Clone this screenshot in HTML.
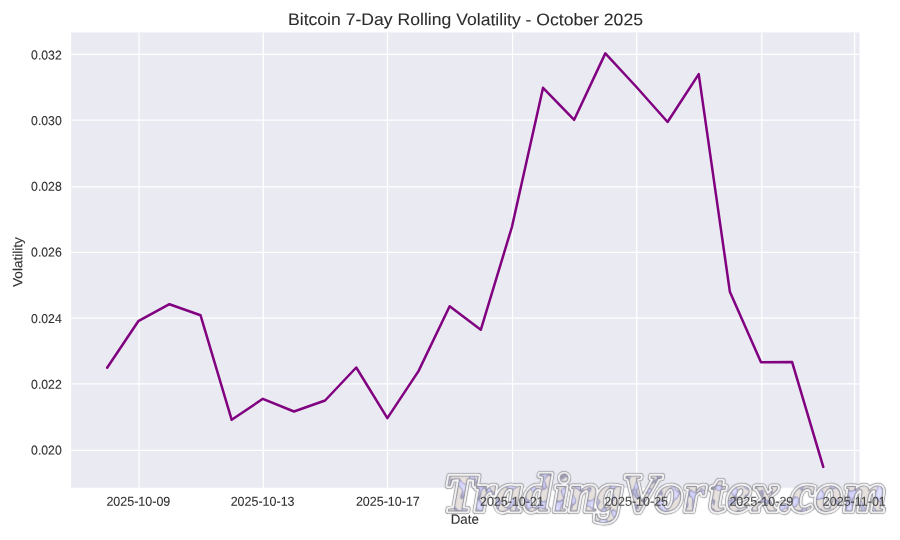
<!DOCTYPE html>
<html lang="en">
<head>
<meta charset="utf-8">
<title>Bitcoin 7-Day Rolling Volatility - October 2025</title>
<style>
html,body{margin:0;padding:0;background:#fff;}
body{width:900px;height:540px;overflow:hidden;}
svg{display:block;}
text{font-family:"Liberation Sans",sans-serif;text-rendering:geometricPrecision;}
.tick{font-size:12.5px;fill:#2e2e2e;stroke:#2e2e2e;stroke-width:0.09px;}
.ytick{font-size:12.25px;fill:#323232;stroke:#323232;stroke-width:0.12px;}
.lab{fill:#303030;stroke:#303030;stroke-width:0.13px;}
.title{font-size:17.6px;fill:#2b2b2b;stroke:#2b2b2b;stroke-width:0.07px;}
.wm{font-family:"Liberation Serif",serif;font-weight:bold;font-style:italic;}
</style>
</head>
<body>
<svg width="900" height="540" viewBox="0 0 900 540">
<rect width="900" height="540" fill="#ffffff"/>

<rect x="71.1" y="32.4" width="788.40" height="455.40" fill="#eaeaf2"/>
<g stroke="#ffffff" stroke-width="1.25" fill="none">
<line x1="139.05" y1="32.4" x2="139.05" y2="487.8"/>
<line x1="263.25" y1="32.4" x2="263.25" y2="487.8"/>
<line x1="387.45" y1="32.4" x2="387.45" y2="487.8"/>
<line x1="512.55" y1="32.4" x2="512.55" y2="487.8"/>
<line x1="636.75" y1="32.4" x2="636.75" y2="487.8"/>
<line x1="761.85" y1="32.4" x2="761.85" y2="487.8"/>
<line x1="854.55" y1="32.4" x2="854.55" y2="487.8"/>
<line x1="71.1" y1="54.45" x2="859.5" y2="54.45"/>
<line x1="71.1" y1="120.15" x2="859.5" y2="120.15"/>
<line x1="71.1" y1="186.75" x2="859.5" y2="186.75"/>
<line x1="71.1" y1="252.45" x2="859.5" y2="252.45"/>
<line x1="71.1" y1="318.15" x2="859.5" y2="318.15"/>
<line x1="71.1" y1="383.85" x2="859.5" y2="383.85"/>
<line x1="71.1" y1="450.45" x2="859.5" y2="450.45"/>
</g>
<polyline points="107.16,367.70 138.29,321.20 169.43,304.20 200.56,315.30 231.70,419.80 262.83,398.80 293.97,411.50 325.10,400.50 356.24,367.50 387.37,418.10 418.51,371.10 449.64,306.20 480.78,329.80 511.91,227.00 543.05,87.80 574.18,119.80 605.32,53.37 636.45,87.00 667.59,122.00 698.72,74.10 729.86,291.70 760.99,362.20 792.13,362.10 823.26,466.87" fill="none" stroke="#800080" stroke-width="2.5" stroke-linecap="round" stroke-linejoin="round"/>
<defs>
<filter id="marble" x="0" y="0" width="100%" height="100%" color-interpolation-filters="sRGB">
<feTurbulence type="fractalNoise" baseFrequency="0.13 0.1" numOctaves="1" seed="7" result="n"/>
<feColorMatrix in="n" type="matrix" values="0 0 0 0 0.776  0 0 0 0 0.776  0 0 0 0 0.980  1 0 0 0 0"/>
<feComponentTransfer result="blobs"><feFuncA type="table" tableValues="0.00 0.00 0.00 0.00 0.00 0.00 0.00 0.00 0.00 0.00 0.00 0.00 0.00 0.00 0.00 0.00 0.00 0.00 0.00 0.00 0.05 0.30 0.55 0.80 1.00 1.00 1.00 1.00 1.00 1.00 1.00 1.00 1.00 1.00 1.00 1.00 1.00 1.00 1.00 1.00 1.00"/></feComponentTransfer>
<feColorMatrix in="n" type="matrix" values="0 0 0 0 0.886  0 0 0 0 0.886  0 0 0 0 0.992  1 0 0 0 0"/>
<feComponentTransfer result="blobs2"><feFuncA type="table" tableValues="0.00 0.00 0.00 0.00 0.00 0.00 0.00 0.00 0.00 0.00 0.00 0.00 0.00 0.00 0.00 0.00 0.00 0.00 0.00 0.00 0.00 0.00 0.00 0.08 0.23 0.38 0.53 0.68 0.83 0.98 1.00 1.00 1.00 1.00 1.00 1.00 1.00 1.00 1.00 1.00 1.00"/></feComponentTransfer>
<feColorMatrix in="n" type="matrix" values="0 0 0 0 0.549  0 0 0 0 0.541  0 0 0 0 0.651  1 0 0 0 0"/>
<feComponentTransfer result="veins"><feFuncA type="table" tableValues="0.00 0.00 0.00 0.00 0.00 0.00 0.00 0.00 0.00 0.00 0.00 0.00 0.00 0.00 0.00 0.00 0.00 0.00 0.00 0.00 0.00 0.50 0.87 0.25 0.00 0.00 0.00 0.00 0.00 0.00 0.00 0.00 0.00 0.00 0.00 0.00 0.00 0.00 0.00 0.00 0.00"/></feComponentTransfer>
<feFlood flood-color="rgb(231,225,222)" result="base"/>
<feMerge result="tex"><feMergeNode in="base"/><feMergeNode in="blobs"/><feMergeNode in="blobs2"/><feMergeNode in="veins"/></feMerge>
<feComposite in="tex" in2="SourceAlpha" operator="in"/>
</filter>
<filter id="wmall" x="-2%" y="-15%" width="104%" height="130%" color-interpolation-filters="sRGB"><feConvolveMatrix order="3" preserveAlpha="false" kernelMatrix="0.0121 0.0858 0.0121 0.0858 0.6084 0.0858 0.0121 0.0858 0.0121"/></filter>
</defs>
<g stroke-linejoin="round" filter="url(#wmall)">
<use href="#wmt" fill="none" stroke="rgb(124,124,132)" stroke-width="6.2" />
<use href="#wmt" fill="#ffffff" stroke="#ffffff" stroke-width="4.7"/>
<g fill="#000000" stroke="none" filter="url(#marble)"><text id="wmt" class="wm" x="443.9 474.5 495.3 524.0 553.4 569.1 595.9 622.8 656.0 684.4 709.6 726.8 752.3 779.2 791.6 815.4 844.0" y="510.6" font-size="53.3">TradingVortex.com</text></g>
<use href="#wmt" fill="none" stroke="rgb(128,128,140)" stroke-width="0.9"/>
</g>

<g class="tick" text-anchor="middle">
<text transform="translate(138.35,505.80) matrix(1,0.001,0,1.03,0,0)">2025-10-09</text>
<text transform="translate(262.60,505.80) matrix(1,0.001,0,1.03,0,0)">2025-10-13</text>
<text transform="translate(387.85,505.80) matrix(1,0.001,0,1.03,0,0)">2025-10-17</text>
<text transform="translate(511.90,505.80) matrix(1,0.001,0,1.03,0,0)" opacity="0.85">2025-10-21</text>
<text transform="translate(636.10,505.80) matrix(1,0.001,0,1.03,0,0)" opacity="0.85">2025-10-25</text>
<text transform="translate(761.35,505.80) matrix(1,0.001,0,1.03,0,0)" opacity="0.85">2025-10-29</text>
<text transform="translate(854.30,505.80) matrix(1,0.001,0,1.03,0,0)" opacity="0.85">2025-11-01</text>
</g>
<g class="ytick" text-anchor="end">
<text transform="translate(61.75,59.40) matrix(1,0.001,0,1.04,0,0)">0.032</text>
<text transform="translate(61.75,125.10) matrix(1,0.001,0,1.04,0,0)">0.030</text>
<text transform="translate(61.75,190.80) matrix(1,0.001,0,1.04,0,0)">0.028</text>
<text transform="translate(61.75,256.50) matrix(1,0.001,0,1.04,0,0)">0.026</text>
<text transform="translate(61.75,323.10) matrix(1,0.001,0,1.04,0,0)">0.024</text>
<text transform="translate(61.75,388.80) matrix(1,0.001,0,1.04,0,0)">0.022</text>
<text transform="translate(61.75,454.50) matrix(1,0.001,0,1.04,0,0)">0.020</text>
</g>
<text class="lab" transform="translate(464.77,523.65) matrix(1,0.001,0,1.0,0,0)" font-size="13.3" text-anchor="middle">Date</text>
<text class="lab" transform="translate(22.30,262.05) rotate(-90) matrix(1,0.001,0,0.97,0,0)" font-size="13.62" text-anchor="middle">Volatility</text>
<text class="title" transform="translate(465.48,25.12) matrix(1,0.001,0,0.955,0,0)" text-anchor="middle">Bitcoin 7-Day Rolling Volatility - October 2025</text>
</svg>
</body>
</html>
